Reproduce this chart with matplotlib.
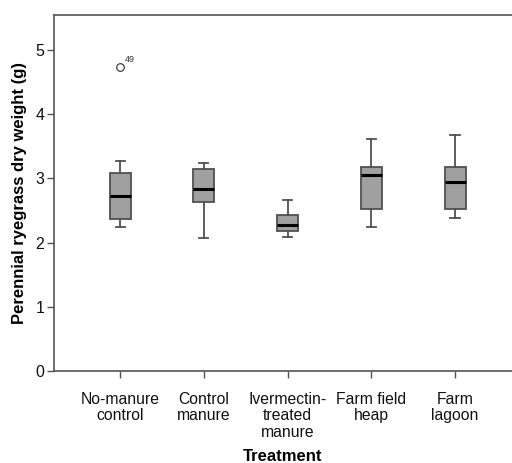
import matplotlib
matplotlib.use("Agg")
import matplotlib.pyplot as plt

plt.rcParams['font.family'] = ['Liberation Sans', 'DejaVu Sans']

categories = ["No-manure\ncontrol", "Control\nmanure", "Ivermectin-\ntreated\nmanure",
              "Farm field\nheap", "Farm\nlagoon"]
whislo = [2.25, 2.07, 2.08, 2.25, 2.38]
q1 = [2.37, 2.63, 2.18, 2.53, 2.53]
med = [2.72, 2.84, 2.28, 3.05, 2.95]
q3 = [3.08, 3.14, 2.43, 3.18, 3.18]
whishi = [3.27, 3.24, 2.67, 3.61, 3.68]
fliers = [[4.73], [], [], [], []]
flier_labels = [["49"], [], [], [], []]
yticks = [0, 1, 2, 3, 4, 5]

fig = plt.figure(figsize=(5.12, 4.63), dpi=100)
ax = fig.add_axes([0.1055, 0.1987, 0.8945, 0.7689])

stats = []
for i in range(len(categories)):
    stats.append(dict(whislo=whislo[i], q1=q1[i], med=med[i], q3=q3[i],
                      whishi=whishi[i], fliers=fliers[i], label=categories[i]))

positions = list(range(1, len(categories) + 1))
ax.bxp(stats, positions=positions, widths=0.25, patch_artist=True,
       showfliers=True,
       boxprops=dict(facecolor='#a0a0a0', edgecolor='#505050', linewidth=1.3),
       medianprops=dict(color='black', linewidth=2.2),
       whiskerprops=dict(color='#505050', linewidth=1.3),
       capprops=dict(color='#505050', linewidth=1.3),
       capwidths=0.11,
       flierprops=dict(marker='o', markerfacecolor='white', markeredgecolor='#404040',
                       markersize=5.5, markeredgewidth=0.9))

for i, (fv, fl) in enumerate(zip(fliers, flier_labels)):
    for v, lab in zip(fv, fl):
        ax.annotate(lab, (positions[i], v), xytext=(3.5, 4), textcoords='offset points',
                    fontsize=6.5, color='#333333')

ax.set_xlim(0.21, 5.68)
ax.set_ylim(0, 5.545)
ax.set_yticks(yticks)
ax.set_xticks(positions)
ax.set_xticklabels(categories, fontsize=11.3, color='#111111', linespacing=1.12)
ax.tick_params(axis='y', labelsize=11.5, colors='#111111', length=5, width=1, direction='out', color='#555555', pad=2)
ax.tick_params(axis='x', length=5, width=1, direction='out', color='#555555', pad=10)

for s in ['left', 'bottom', 'top']:
    ax.spines[s].set_color('#555555')
    ax.spines[s].set_linewidth(1.2)
ax.spines['right'].set_visible(False)

ax.set_ylabel("Perennial ryegrass dry weight (g)", fontsize=12, fontweight='bold', labelpad=6)
ax.set_xlabel("Treatment", fontsize=12, fontweight='bold', labelpad=7)

fig.savefig("out.png", dpi=100)
